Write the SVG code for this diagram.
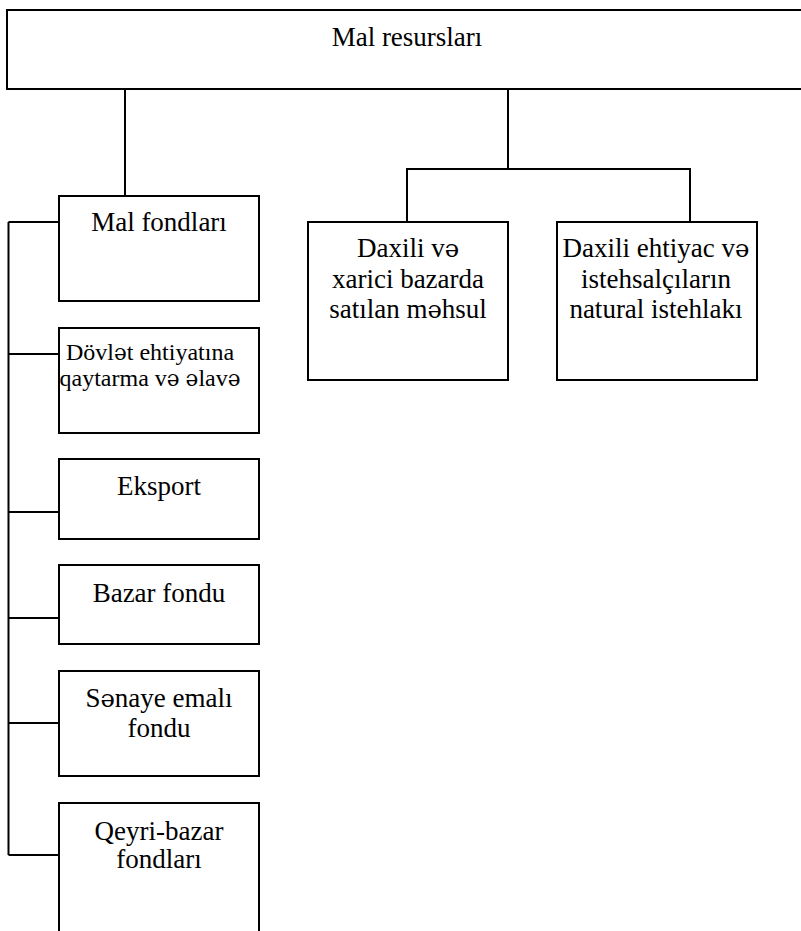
<svg xmlns="http://www.w3.org/2000/svg" width="801" height="931" viewBox="0 0 801 931">
<style>
  .box { fill: #ffffff; stroke: #000000; stroke-width: 2; }
  .t { font-family: "Liberation Serif", "Times New Roman", serif; font-size: 27px; fill: #000000; text-anchor: middle; }
  .s { font-size: 24px; }
  .e { font-family: "DejaVu Serif", "Liberation Serif", serif; font-size: 0.9em; }
  .c { fill: none; stroke: #000000; stroke-width: 2; }
</style>
<rect width="801" height="931" fill="#ffffff"/>
<g id="connectors">
  <path class="c" d="M125 89 V196"/>
  <path class="c" d="M508 89 V169 M407 222 V169 H690 V222"/>
  <path class="c" d="M8.5 222 V855"/>
  <path class="c" d="M8.5 222 H59 M8.5 354 H59 M8.5 512 H59 M8.5 618 H59 M8.5 723 H59 M8.5 855 H59"/>
</g>
<g id="mal-resurslari">
  <rect class="box" x="7" y="10" width="805" height="79"/>
  <text class="t" x="407" y="46">Mal resursları</text>
</g>
<g id="mal-fondlari">
  <rect class="box" x="59" y="196" width="200" height="105"/>
  <text class="t" x="159" y="231">Mal fondları</text>
</g>
<g id="dovlet-ehtiyati">
  <rect class="box" x="59" y="328" width="200" height="105"/>
  <text class="t s" x="150" y="360">Dövl<tspan class="e">ə</tspan>t ehtiyatına</text>
  <text class="t s" x="150" y="386">qaytarma v<tspan class="e">ə</tspan> <tspan class="e">ə</tspan>lav<tspan class="e">ə</tspan></text>
</g>
<g id="eksport">
  <rect class="box" x="59" y="459" width="200" height="80"/>
  <text class="t" x="159" y="495">Eksport</text>
</g>
<g id="bazar-fondu">
  <rect class="box" x="59" y="565" width="200" height="79"/>
  <text class="t" x="159" y="602">Bazar fondu</text>
</g>
<g id="senaye-emali">
  <rect class="box" x="59" y="671" width="200" height="105"/>
  <text class="t" x="159" y="707">S<tspan class="e">ə</tspan>naye emalı</text>
  <text class="t" x="159" y="737">fondu</text>
</g>
<g id="qeyri-bazar">
  <rect class="box" x="59" y="803" width="200" height="140"/>
  <text class="t" x="159" y="840">Qeyri-bazar</text>
  <text class="t" x="159" y="868">fondları</text>
</g>
<g id="daxili-xarici">
  <rect class="box" x="308" y="222" width="200" height="158"/>
  <text class="t" x="408" y="257">Daxili v<tspan class="e">ə</tspan></text>
  <text class="t" x="408" y="288">xarici bazarda</text>
  <text class="t" x="408" y="318">satılan m<tspan class="e">ə</tspan>hsul</text>
</g>
<g id="daxili-ehtiyac">
  <rect class="box" x="557" y="222" width="200" height="158"/>
  <text class="t" x="656" y="257">Daxili ehtiyac v<tspan class="e">ə</tspan></text>
  <text class="t" x="656" y="288">istehsalçıların</text>
  <text class="t" x="656" y="318">natural istehlakı</text>
</g>
</svg>
